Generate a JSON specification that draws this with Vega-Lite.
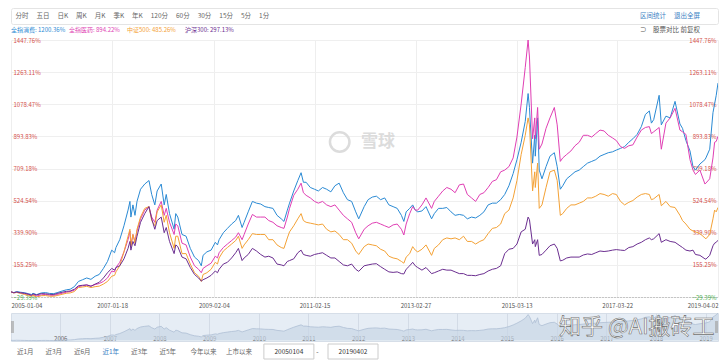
{
"$schema": "https://vega.github.io/schema/vega-lite/v6.json",
"background": "#ffffff",
"padding": {"left": 8, "top": 7, "right": 5, "bottom": 0},
"bounds": "flush",
"spacing": 0,
"config": {"font": "Noto Sans CJK SC", "view": {"stroke": null}, "text": {"font": "Noto Sans CJK SC"}},
"datasets": {
"main": [
{"d":"2005-01-04","a":0,"b":0,"c":0,"e":0},
{"d":"2005-01-25","a":-4,"b":-5,"c":-6,"e":-5},
{"d":"2005-02-15","a":2,"b":-2,"c":-3,"e":-1},
{"d":"2005-03-15","a":-2,"b":-6,"c":-9,"e":-5},
{"d":"2005-04-15","a":-5,"b":-11,"c":-15,"e":-8},
{"d":"2005-05-15","a":-11,"b":-15,"c":-20,"e":-14},
{"d":"2005-06-03","a":-15,"b":-21,"c":-26,"e":-19},
{"d":"2005-06-15","a":-8,"b":-16,"c":-20,"e":-12},
{"d":"2005-07-11","a":-16,"b":-24,"c":-29.39,"e":-17},
{"d":"2005-08-15","a":-6,"b":-17,"c":-22,"e":-10},
{"d":"2005-09-15","a":-4,"b":-15,"c":-21,"e":-11},
{"d":"2005-10-15","a":-9,"b":-19,"c":-25,"e":-14},
{"d":"2005-11-15","a":-10,"b":-20,"c":-25,"e":-15},
{"d":"2005-12-15","a":-3,"b":-14,"c":-20,"e":-8},
{"d":"2006-01-15","a":5,"b":-8,"c":-14,"e":-2},
{"d":"2006-02-15","a":12,"b":-2,"c":-8,"e":3},
{"d":"2006-03-15","a":15,"b":2,"c":-6,"e":5},
{"d":"2006-04-15","a":30,"b":10,"c":2,"e":15},
{"d":"2006-05-15","a":60,"b":30,"c":25,"e":35},
{"d":"2006-06-15","a":70,"b":35,"c":28,"e":38},
{"d":"2006-07-15","a":80,"b":40,"c":32,"e":40},
{"d":"2006-08-15","a":72,"b":34,"c":25,"e":32},
{"d":"2006-09-15","a":90,"b":42,"c":30,"e":45},
{"d":"2006-10-15","a":100,"b":48,"c":33,"e":55},
{"d":"2006-11-15","a":135,"b":60,"c":45,"e":80},
{"d":"2006-12-15","a":175,"b":80,"c":60,"e":110},
{"d":"2007-01-15","a":240,"b":120,"c":90,"e":135},
{"d":"2007-02-05","a":225,"b":115,"c":95,"e":125},
{"d":"2007-02-15","a":255,"b":140,"c":115,"e":140},
{"d":"2007-03-15","a":300,"b":170,"c":150,"e":150},
{"d":"2007-04-15","a":380,"b":230,"c":230,"e":190},
{"d":"2007-05-15","a":470,"b":300,"c":320,"e":250},
{"d":"2007-05-29","a":520,"b":350,"c":360,"e":290},
{"d":"2007-06-05","a":430,"b":270,"c":260,"e":240},
{"d":"2007-06-20","a":500,"b":330,"c":330,"e":290},
{"d":"2007-07-05","a":440,"b":290,"c":280,"e":265},
{"d":"2007-07-20","a":520,"b":350,"c":360,"e":320},
{"d":"2007-08-15","a":590,"b":420,"c":430,"e":400},
{"d":"2007-09-15","a":620,"b":470,"c":480,"e":450},
{"d":"2007-10-16","a":640,"b":490,"c":490,"e":490},
{"d":"2007-11-05","a":560,"b":430,"c":410,"e":420},
{"d":"2007-11-28","a":500,"b":400,"c":380,"e":360},
{"d":"2007-12-15","a":580,"b":470,"c":460,"e":410},
{"d":"2008-01-14","a":620,"b":520,"c":500,"e":430},
{"d":"2008-02-05","a":500,"b":440,"c":400,"e":340},
{"d":"2008-02-20","a":560,"b":480,"c":440,"e":370},
{"d":"2008-03-15","a":450,"b":400,"c":340,"e":290},
{"d":"2008-04-18","a":360,"b":330,"c":250,"e":220},
{"d":"2008-04-30","a":450,"b":390,"c":320,"e":270},
{"d":"2008-05-15","a":430,"b":380,"c":320,"e":260},
{"d":"2008-06-15","a":330,"b":280,"c":220,"e":200},
{"d":"2008-07-15","a":320,"b":270,"c":220,"e":190},
{"d":"2008-08-15","a":250,"b":200,"c":160,"e":140},
{"d":"2008-09-15","a":200,"b":150,"c":110,"e":100},
{"d":"2008-10-15","a":180,"b":130,"c":90,"e":80},
{"d":"2008-11-04","a":150,"b":110,"c":60,"e":62},
{"d":"2008-11-17","a":210,"b":135,"c":100,"e":70},
{"d":"2008-12-15","a":230,"b":150,"c":110,"e":80},
{"d":"2009-01-15","a":240,"b":165,"c":130,"e":95},
{"d":"2009-02-15","a":285,"b":205,"c":170,"e":120},
{"d":"2009-03-03","a":270,"b":195,"c":160,"e":110},
{"d":"2009-03-15","a":300,"b":225,"c":195,"e":130},
{"d":"2009-04-15","a":340,"b":255,"c":235,"e":160},
{"d":"2009-05-15","a":365,"b":275,"c":255,"e":170},
{"d":"2009-06-15","a":390,"b":295,"c":275,"e":195},
{"d":"2009-07-15","a":410,"b":315,"c":295,"e":225},
{"d":"2009-08-04","a":440,"b":340,"c":320,"e":250},
{"d":"2009-08-31","a":370,"b":300,"c":250,"e":180},
{"d":"2009-09-15","a":400,"b":330,"c":270,"e":195},
{"d":"2009-10-15","a":460,"b":390,"c":300,"e":215},
{"d":"2009-11-15","a":520,"b":445,"c":335,"e":250},
{"d":"2009-12-15","a":510,"b":430,"c":330,"e":235},
{"d":"2010-01-15","a":505,"b":430,"c":330,"e":215},
{"d":"2010-02-15","a":490,"b":430,"c":330,"e":200},
{"d":"2010-03-15","a":485,"b":410,"c":300,"e":205},
{"d":"2010-04-15","a":480,"b":400,"c":300,"e":195},
{"d":"2010-05-15","a":440,"b":380,"c":270,"e":160},
{"d":"2010-06-15","a":420,"b":370,"c":255,"e":155},
{"d":"2010-07-05","a":405,"b":365,"c":250,"e":150},
{"d":"2010-07-30","a":470,"b":430,"c":310,"e":175},
{"d":"2010-08-15","a":510,"b":480,"c":345,"e":180},
{"d":"2010-09-15","a":580,"b":555,"c":380,"e":190},
{"d":"2010-10-15","a":640,"b":590,"c":420,"e":225},
{"d":"2010-11-08","a":685,"b":625,"c":450,"e":240},
{"d":"2010-11-25","a":630,"b":570,"c":410,"e":215},
{"d":"2010-12-15","a":630,"b":555,"c":400,"e":210},
{"d":"2011-01-15","a":600,"b":540,"c":395,"e":205},
{"d":"2011-02-15","a":590,"b":520,"c":390,"e":215},
{"d":"2011-03-15","a":580,"b":510,"c":385,"e":220},
{"d":"2011-04-15","a":600,"b":520,"c":390,"e":225},
{"d":"2011-05-15","a":590,"b":500,"c":360,"e":210},
{"d":"2011-06-15","a":575,"b":490,"c":345,"e":195},
{"d":"2011-07-15","a":610,"b":500,"c":350,"e":195},
{"d":"2011-08-15","a":625,"b":470,"c":330,"e":175},
{"d":"2011-09-15","a":570,"b":440,"c":300,"e":155},
{"d":"2011-10-15","a":530,"b":420,"c":300,"e":150},
{"d":"2011-11-15","a":520,"b":400,"c":280,"e":160},
{"d":"2011-12-15","a":460,"b":340,"c":235,"e":130},
{"d":"2012-01-06","a":420,"b":305,"c":215,"e":118},
{"d":"2012-02-15","a":490,"b":360,"c":260,"e":150},
{"d":"2012-03-15","a":530,"b":380,"c":275,"e":155},
{"d":"2012-04-15","a":545,"b":395,"c":270,"e":160},
{"d":"2012-05-15","a":550,"b":400,"c":265,"e":162},
{"d":"2012-06-15","a":530,"b":390,"c":245,"e":145},
{"d":"2012-07-15","a":540,"b":380,"c":235,"e":130},
{"d":"2012-08-15","a":500,"b":370,"c":205,"e":115},
{"d":"2012-09-15","a":490,"b":385,"c":195,"e":112},
{"d":"2012-10-15","a":480,"b":390,"c":190,"e":115},
{"d":"2012-11-15","a":440,"b":360,"c":175,"e":105},
{"d":"2012-12-03","a":405,"b":327,"c":165,"e":103},
{"d":"2012-12-20","a":460,"b":390,"c":200,"e":130},
{"d":"2013-01-15","a":480,"b":450,"c":220,"e":150},
{"d":"2013-02-06","a":500,"b":490,"c":260,"e":170},
{"d":"2013-02-25","a":470,"b":470,"c":240,"e":150},
{"d":"2013-03-15","a":460,"b":470,"c":230,"e":140},
{"d":"2013-04-15","a":465,"b":500,"c":245,"e":125},
{"d":"2013-05-15","a":490,"b":540,"c":270,"e":140},
{"d":"2013-06-25","a":420,"b":480,"c":210,"e":105},
{"d":"2013-07-15","a":450,"b":520,"c":250,"e":110},
{"d":"2013-08-15","a":480,"b":550,"c":270,"e":120},
{"d":"2013-09-15","a":480,"b":580,"c":300,"e":130},
{"d":"2013-10-15","a":485,"b":600,"c":310,"e":125},
{"d":"2013-11-15","a":460,"b":590,"c":305,"e":125},
{"d":"2013-12-15","a":440,"b":570,"c":310,"e":115},
{"d":"2014-01-15","a":445,"b":615,"c":300,"e":105},
{"d":"2014-02-15","a":440,"b":620,"c":320,"e":105},
{"d":"2014-03-15","a":420,"b":560,"c":290,"e":95},
{"d":"2014-04-15","a":430,"b":540,"c":290,"e":95},
{"d":"2014-05-15","a":425,"b":520,"c":275,"e":93},
{"d":"2014-06-15","a":440,"b":560,"c":290,"e":100},
{"d":"2014-07-15","a":460,"b":570,"c":300,"e":105},
{"d":"2014-08-15","a":500,"b":600,"c":335,"e":120},
{"d":"2014-09-15","a":510,"b":635,"c":365,"e":130},
{"d":"2014-10-15","a":510,"b":645,"c":370,"e":135},
{"d":"2014-11-15","a":530,"b":690,"c":390,"e":150},
{"d":"2014-12-15","a":560,"b":700,"c":450,"e":220},
{"d":"2015-01-15","a":610,"b":720,"c":470,"e":245},
{"d":"2015-02-15","a":680,"b":770,"c":540,"e":250},
{"d":"2015-03-15","a":760,"b":890,"c":640,"e":275},
{"d":"2015-04-15","a":860,"b":1080,"c":790,"e":345},
{"d":"2015-05-15","a":980,"b":1290,"c":900,"e":360},
{"d":"2015-06-05","a":1140,"b":1447.76,"c":1000,"e":430},
{"d":"2015-06-15","a":1060,"b":1350,"c":960,"e":415},
{"d":"2015-07-08","a":740,"b":880,"c":580,"e":275},
{"d":"2015-07-24","a":900,"b":1000,"c":690,"e":300},
{"d":"2015-07-28","a":780,"b":880,"c":600,"e":260},
{"d":"2015-08-14","a":1000,"b":1060,"c":740,"e":300},
{"d":"2015-08-26","a":700,"b":820,"c":480,"e":210},
{"d":"2015-09-15","a":650,"b":850,"c":500,"e":215},
{"d":"2015-10-15","a":720,"b":940,"c":600,"e":240},
{"d":"2015-11-13","a":780,"b":1000,"c":690,"e":265},
{"d":"2015-12-15","a":800,"b":1060,"c":700,"e":275},
{"d":"2016-01-05","a":720,"b":960,"c":640,"e":250},
{"d":"2016-01-28","a":590,"b":750,"c":440,"e":178},
{"d":"2016-02-15","a":610,"b":770,"c":450,"e":182},
{"d":"2016-03-15","a":650,"b":790,"c":480,"e":195},
{"d":"2016-04-15","a":670,"b":810,"c":500,"e":200},
{"d":"2016-05-15","a":690,"b":840,"c":500,"e":200},
{"d":"2016-06-15","a":700,"b":860,"c":510,"e":200},
{"d":"2016-07-15","a":720,"b":900,"c":520,"e":212},
{"d":"2016-08-15","a":740,"b":900,"c":540,"e":218},
{"d":"2016-09-15","a":750,"b":890,"c":540,"e":215},
{"d":"2016-10-15","a":760,"b":910,"c":550,"e":225},
{"d":"2016-11-15","a":780,"b":930,"c":565,"e":235},
{"d":"2016-12-15","a":790,"b":925,"c":560,"e":232},
{"d":"2017-01-15","a":800,"b":900,"c":550,"e":235},
{"d":"2017-02-15","a":805,"b":885,"c":565,"e":240},
{"d":"2017-03-15","a":815,"b":870,"c":560,"e":243},
{"d":"2017-04-15","a":825,"b":835,"c":520,"e":240},
{"d":"2017-05-15","a":835,"b":825,"c":500,"e":238},
{"d":"2017-06-15","a":860,"b":840,"c":515,"e":255},
{"d":"2017-07-15","a":880,"b":845,"c":525,"e":260},
{"d":"2017-08-15","a":905,"b":890,"c":545,"e":275},
{"d":"2017-09-15","a":950,"b":930,"c":560,"e":285},
{"d":"2017-10-15","a":1020,"b":945,"c":565,"e":300},
{"d":"2017-11-13","a":1040,"b":950,"c":560,"e":310},
{"d":"2017-11-28","a":970,"b":910,"c":530,"e":300},
{"d":"2017-12-15","a":990,"b":920,"c":535,"e":305},
{"d":"2018-01-24","a":1130,"b":945,"c":560,"e":335},
{"d":"2018-02-09","a":960,"b":820,"c":495,"e":285},
{"d":"2018-03-15","a":1010,"b":970,"c":520,"e":300},
{"d":"2018-04-15","a":1000,"b":1000,"c":490,"e":290},
{"d":"2018-05-21","a":1095,"b":1055,"c":485,"e":285},
{"d":"2018-06-26","a":965,"b":930,"c":440,"e":265},
{"d":"2018-07-15","a":940,"b":920,"c":410,"e":255},
{"d":"2018-08-09","a":870,"b":905,"c":390,"e":240},
{"d":"2018-09-08","a":810,"b":760,"c":360,"e":235},
{"d":"2018-09-30","a":720,"b":700,"c":350,"e":240},
{"d":"2018-10-18","a":700,"b":675,"c":345,"e":215},
{"d":"2018-11-20","a":735,"b":700,"c":335,"e":210},
{"d":"2018-12-27","a":760,"b":620,"c":310,"e":190},
{"d":"2019-01-03","a":770,"b":625,"c":305,"e":188},
{"d":"2019-01-31","a":820,"b":650,"c":330,"e":210},
{"d":"2019-02-24","a":1030,"b":770,"c":420,"e":265},
{"d":"2019-03-08","a":1080,"b":860,"c":470,"e":280},
{"d":"2019-03-20","a":1130,"b":865,"c":460,"e":285},
{"d":"2019-04-02","a":1200.36,"b":894.22,"c":485.26,"e":297.13}
],
"legend": [
{"s":"a","t":"全指消费: 1200.36%"},
{"s":"b","t":"全指医药: 894.22%"},
{"s":"c","t":"中证500: 485.26%"},
{"s":"e","t":"沪深300: 297.13%"}
],
"bottom": [
{"k":"近1月"},{"k":"近3月"},{"k":"近6月"},{"k":"近1年"},{"k":"近3年"},{"k":"近5年"},{"k":"今年以来"},{"k":"上市以来"}
],
"inputs": [
{"k":"box1","t":"20050104"},{"k":"dash","t":"-"},{"k":"box2","t":"20190402"}
]
},
"vconcat": [
{
"width": 707, "height": 16,
"view": {"stroke": "#e4e4e4", "cornerRadius": 2},
"data": {"values": [{"t": "分时　 五日　 日K　 周K　 月K　 季K　 年K　 120分　 60分　 30分　 15分　 5分　 1分"}]},
"layer": [
{"mark": {"type": "text", "align": "left", "baseline": "middle", "fontSize": 6.5, "color": "#666666"},
 "encoding": {"x": {"datum": "L", "type": "nominal", "scale": {"type": "point", "domain": ["L", "R"], "padding": 0.016437, "align": 0.2}, "axis": null}, "text": {"field": "t"}}},
{"data": {"values": [{"t": "区间统计　 退出全屏"}]},
 "mark": {"type": "text", "align": "right", "baseline": "middle", "fontSize": 6.5, "color": "#3b7fc4"},
 "encoding": {"x": {"datum": "R", "type": "nominal", "scale": {"type": "point", "domain": ["L", "R"], "padding": 0.016437, "align": 0.2}, "axis": null}, "text": {"field": "t"}}}
]
},
{
"width": 707, "height": 16,
"layer": [
{"data": {"name": "legend"},
 "mark": {"type": "text", "align": "left", "baseline": "alphabetic", "fontSize": 6},
 "encoding": {"x": {"field": "s", "type": "nominal", "scale": {"type": "point", "domain": ["a", "b", "c", "e", "_4", "_5", "_6", "_7", "_8", "_9", "_10", "_11", "_12"], "padding": 0.095, "align": 0}, "axis": null},
  "text": {"field": "t"},
  "color": {"field": "s", "type": "nominal", "scale": {"domain": ["a", "b", "c", "e"], "range": ["#2a8ad4", "#e03fb4", "#f4a236", "#6b2e90"]}, "legend": null}}},
{"data": {"values": [{"t": "⊃　股票对比  前复权"}]},
 "mark": {"type": "text", "align": "right", "baseline": "alphabetic", "fontSize": 6.5, "color": "#555555"},
 "encoding": {"x": {"datum": "R", "type": "nominal", "scale": {"type": "point", "domain": ["L", "R"], "padding": 0.016437, "align": 0.2}, "axis": null}, "text": {"field": "t"}}}
],
"resolve": {"scale": {"x": "independent", "color": "independent"}}
},
{
"width": 707, "height": 257,
"layer": [
{"data": {"values": [{"t": "雪球"}]},
 "mark": {"type": "text", "fontSize": 17, "fontWeight": "bold", "color": "#dcdcdc", "align": "center", "baseline": "middle"},
 "encoding": {"x": {"datum": {"year": 2012, "month": 5, "date": 26}, "type": "temporal"}, "y": {"datum": 862, "type": "quantitative", "axis": null}, "text": {"field": "t"}}},
{"data": {"values": [{"t": "logo"}]},
 "mark": {"type": "point", "shape": "circle", "size": 380, "filled": false, "stroke": "#dcdcdc", "strokeWidth": 2.5, "opacity": 1},
 "encoding": {"x": {"datum": {"year": 2011, "month": 8, "date": 19}, "type": "temporal"}, "y": {"datum": 862, "type": "quantitative", "axis": null}}},
{"data": {"name": "main"},
 "transform": [{"fold": ["a", "b", "c", "e"], "as": ["s", "v"]}],
 "mark": {"type": "line", "strokeWidth": 1, "clip": true},
 "encoding": {
  "x": {"field": "d", "type": "temporal",
   "scale": {"domain": [{"year": 2005, "month": 1, "date": 4}, {"year": 2019, "month": 4, "date": 2}]},
   "axis": {"values": [{"year": 2005, "month": 1, "date": 4}, {"year": 2007, "month": 1, "date": 18}, {"year": 2009, "month": 2, "date": 4}, {"year": 2011, "month": 2, "date": 15}, {"year": 2013, "month": 2, "date": 27}, {"year": 2015, "month": 3, "date": 13}, {"year": 2017, "month": 3, "date": 22}, {"year": 2019, "month": 4, "date": 2}],
    "format": "%Y-%m-%d", "labelFlush": false, "labelAlign": {"expr": "datum.index == 0 ? 'left' : (datum.index == 1 ? 'right' : 'center')"}, "grid": true, "gridColor": "#eeeeee", "domain": true, "domainColor": "#9a9a9a", "domainDash": [1, 2], "ticks": false, "tickSize": 0, "labelPadding": 5, "labelFontSize": 6, "labelColor": "#555555", "title": null, "labelOverlap": false}},
  "y": {"field": "v", "type": "quantitative",
   "scale": {"domain": [-29.39, 1447.76], "nice": false, "zero": false},
   "axis": {"orient": "left", "values": [-29.39, 155.25, 339.9, 524.54, 709.18, 893.83, 1078.47, 1263.11, 1447.76], "grid": true, "gridColor": "#efefef", "domain": false, "ticks": false, "tickSize": 0, "labelAlign": "left", "labelPadding": -2, "labelBaseline": "middle", "labelFontSize": 6, "labelColor": {"condition": {"test": "datum.value < 0", "value": "#4caf50"}, "value": "#d4504b"}, "labelExpr": "format(datum.value, '.2f') + '%'", "title": null, "labelOverlap": false}},
  "color": {"field": "s", "type": "nominal", "scale": {"domain": ["a", "b", "c", "e"], "range": ["#2a8ad4", "#e03fb4", "#f4a236", "#6b2e90"]}, "legend": null}
 }},
{"data": {"values": [{"v": 0}]},
 "mark": {"type": "point", "opacity": 0},
 "encoding": {"y": {"field": "v", "type": "quantitative",
   "scale": {"domain": [-29.39, 1447.76], "nice": false, "zero": false},
   "axis": {"orient": "right", "values": [-29.39, 155.25, 339.9, 524.54, 709.18, 893.83, 1078.47, 1263.11, 1447.76], "grid": false, "domain": false, "ticks": false, "tickSize": 0, "labelAlign": "right", "labelPadding": -2, "labelBaseline": "middle", "labelFontSize": 6, "labelColor": {"condition": {"test": "datum.value < 0", "value": "#4caf50"}, "value": "#d4504b"}, "labelExpr": "format(datum.value, '.2f') + '%'", "title": null, "labelOverlap": false}}}}
],
"resolve": {"axis": {"y": "independent"}}
},
{
"width": 707, "height": 16,
"data": {"values": [{"v": 0}]},
"mark": {"type": "point", "opacity": 0}
},
{
"width": 707, "height": 28,
"view": {"fill": "#e6edf5", "stroke": "#d6dee8"},
"layer": [
{"data": {"name": "main"},
 "mark": {"type": "area", "color": "#c8d5e5", "line": {"color": "#aebfd4", "strokeWidth": 0.8}},
 "encoding": {
  "x": {"field": "d", "type": "temporal",
   "scale": {"domain": [{"year": 2005, "month": 1, "date": 4}, {"year": 2019, "month": 4, "date": 2}]},
   "axis": {"values": [{"year": 2006, "month": 1, "date": 1}, {"year": 2007, "month": 1, "date": 1}, {"year": 2008, "month": 1, "date": 1}, {"year": 2009, "month": 1, "date": 1}, {"year": 2010, "month": 1, "date": 1}, {"year": 2011, "month": 1, "date": 1}, {"year": 2012, "month": 1, "date": 1}, {"year": 2013, "month": 1, "date": 1}, {"year": 2014, "month": 1, "date": 1}, {"year": 2015, "month": 1, "date": 1}, {"year": 2016, "month": 1, "date": 1}, {"year": 2017, "month": 1, "date": 1}, {"year": 2018, "month": 1, "date": 1}, {"year": 2019, "month": 1, "date": 1}],
    "format": "%Y", "grid": true, "gridColor": "#d3dbe6", "domain": false, "ticks": false, "tickSize": 0, "labelPadding": -6, "labelFontSize": 6, "labelColor": "#666666", "title": null, "labelOverlap": false}},
  "y": {"field": "a", "type": "quantitative", "scale": {"domain": [-30, 1210], "nice": false, "zero": false}, "axis": null}
 }},
{"data": {"values": [{"h": "2005-01-15"}, {"h": "2019-03-22"}]},
 "mark": {"type": "tick", "orient": "vertical", "size": 12, "thickness": 3, "color": "#a7a7a7"},
 "encoding": {"x": {"field": "h", "type": "temporal"}}},
{"data": {"values": [{"t": "知乎 @AI搬砖工"}]},
 "mark": {"type": "text", "align": "right", "baseline": "middle", "fontSize": 22, "fill": "#ffffff", "stroke": "#6e6e6e", "strokeWidth": 0.6},
 "encoding": {"x": {"datum": {"year": 2019, "month": 3, "date": 8}, "type": "temporal"}, "text": {"field": "t"}}}
]
},
{
"width": 707, "height": 21,
"layer": [
{"data": {"name": "bottom"},
 "mark": {"type": "text", "align": "center", "baseline": "middle", "fontSize": 6.5},
 "encoding": {"x": {"field": "k", "type": "nominal", "scale": {"type": "point", "domain": ["_0","_1","近1月","_3","_4","_5","近3月","_7","_8","_9","近6月","_11","_12","_13","近1年","_15","_16","_17","近3年","_19","_20","_21","近5年","_23","_24","_25","_26","今年以来","_28","_29","_30","_31","上市以来","_33","_34","_35","_36","_37","_38","box1","_40","_41","_42","dash","_44","_45","_46","_47","box2","_49","_50","_51","_52","_53","_54","_55","_56","_57","_58","_59","_60","_61","_62","_63","_64","_65","_66","_67","_68","_69","_70","_71","_72","_73","_74","_75","_76","_77","_78","_79","_80","_81","_82","_83","_84","_85","_86","_87","_88","_89","_90","_91","_92","_93","_94","_95","_96","_97","_98","_99"], "padding": 0.114, "align": 0}, "axis": null},
  "text": {"field": "k"},
  "color": {"condition": {"test": "datum.k == '近1年'", "value": "#3b7fc4"}, "value": "#666666"}}},
{"data": {"name": "inputs"},
 "transform": [{"filter": "datum.k != 'dash'"}],
 "mark": {"type": "point", "shape": "M-1,-0.3H1V0.3H-1Z", "size": 2500, "filled": true, "fill": "#ffffff", "stroke": "#cccccc", "strokeWidth": 1, "opacity": 1},
 "encoding": {"x": {"field": "k", "type": "nominal", "axis": null}}},
{"data": {"name": "inputs"},
 "mark": {"type": "text", "align": "center", "baseline": "middle", "fontSize": 6.5, "color": "#333333"},
 "encoding": {"x": {"field": "k", "type": "nominal", "axis": null}, "text": {"field": "t"}}}
]
}
]
}
